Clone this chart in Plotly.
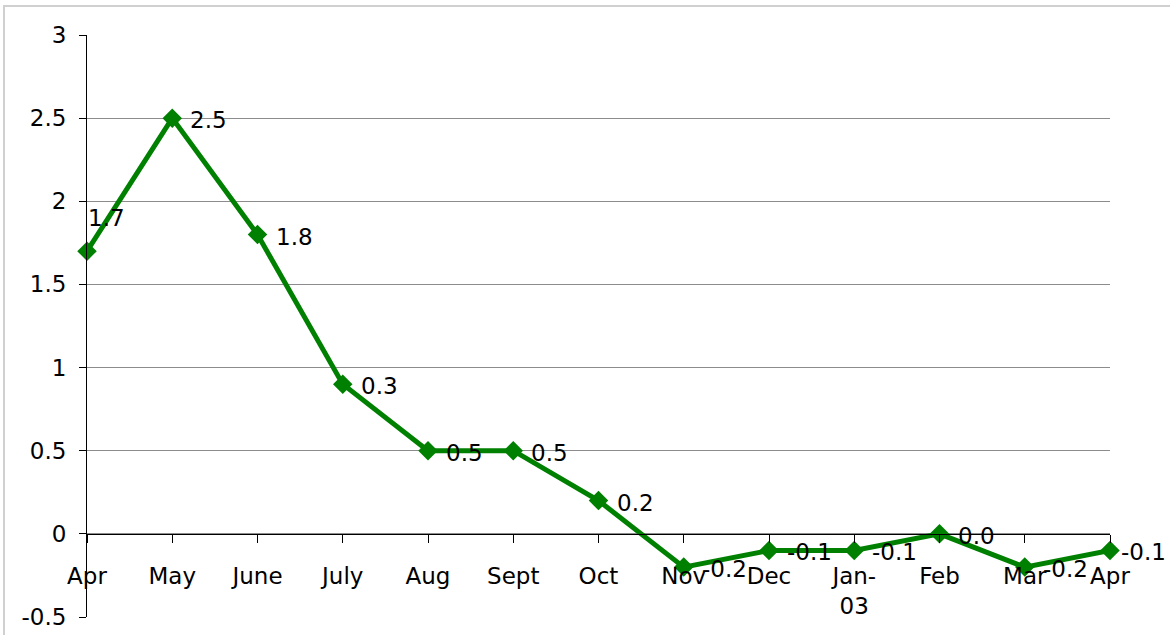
import plotly.graph_objects as go

# Monthly series, April through the following April
months = ["Apr", "May", "June", "July", "Aug", "Sept", "Oct", "Nov", "Dec", "Jan-<br>03", "Feb", "Mar", "Apr"]
values = [1.7, 2.5, 1.8, 0.9, 0.5, 0.5, 0.2, -0.2, -0.1, -0.1, 0.0, -0.2, -0.1]
point_labels = ["1.7", "2.5", "1.8", "0.3", "0.5", "0.5", "0.2", "-0.2", "-0.1", "-0.1", "0.0", "-0.2", "-0.1"]
y_ticks = [-0.5, 0, 0.5, 1, 1.5, 2, 2.5, 3]
y_tick_text = ["-0.5", "0", "0.5", "1", "1.5", "2", "2.5", "3"]

W, H = 1170, 635
ML, MR, MT, MB = 87, 60, 35, 18
FONT = dict(family="DejaVu Sans, Verdana, sans-serif", size=23, color="#000000")
GREEN = "#008000"

xs = list(range(len(months)))
y_min, y_max = y_ticks[0], y_ticks[-1]

fig = go.Figure()
fig.add_trace(go.Scatter(
    x=xs, y=values,
    mode="lines+markers",
    line=dict(color=GREEN, width=5),
    marker=dict(symbol="diamond", size=15, color=GREEN),
    cliponaxis=False,
    hoverinfo="skip",
    showlegend=False,
))

# Data labels sit to the right of each point; the first one is lifted above,
# the last one is pulled in so it stays inside the frame
annotations = []
last = len(values) - 1
for i, (v, lab) in enumerate(zip(values, point_labels)):
    if i == 0:
        xshift, yshift = -1, 33
    elif i == last:
        xshift, yshift = 9, -2
    else:
        xshift, yshift = 16, -2
    annotations.append(dict(
        x=i, y=v, xref="x", yref="y", text=lab, showarrow=False,
        xanchor="left", yanchor="middle", xshift=xshift, yshift=yshift,
        font=FONT,
    ))

plot_w = W - ML - MR
plot_h = H - MT - MB
# Light frame around the chart area
shapes = [dict(
    type="rect", xref="paper", yref="paper",
    x0=(4 - ML) / plot_w, x1=(W + 10 - ML) / plot_w,
    y0=(H - (H + 10) - MB) / plot_h, y1=(H - 6 - MB) / plot_h,
    line=dict(color="#d0d0d0", width=2), fillcolor="rgba(0,0,0,0)", layer="below",
)]

fig.update_layout(
    width=W, height=H,
    margin=dict(l=ML, r=MR, t=MT, b=MB, autoexpand=False),
    paper_bgcolor="white", plot_bgcolor="white",
    font=FONT,
    annotations=annotations,
    shapes=shapes,
    xaxis=dict(
        range=[xs[0], xs[-1]],
        tickvals=xs, ticktext=months,
        anchor="free", position=(0 - y_min) / (y_max - y_min),
        showline=True, linecolor="#000000", linewidth=1,
        ticks="outside", ticklen=8, tickcolor="#000000", tickwidth=1,
        ticklabelstandoff=14,
        showgrid=False, zeroline=False, automargin=False,
        tickfont=FONT,
    ),
    yaxis=dict(
        range=[y_min, y_max],
        tickvals=y_ticks, ticktext=y_tick_text,
        showline=True, linecolor="#000000", linewidth=1,
        ticks="outside", ticklen=7, tickcolor="#000000", tickwidth=1,
        ticklabelstandoff=8,
        showgrid=True, gridcolor="#8c8c8c", gridwidth=1,
        zeroline=False, automargin=False,
        tickfont=FONT,
    ),
)

fig.write_html("out.html")
